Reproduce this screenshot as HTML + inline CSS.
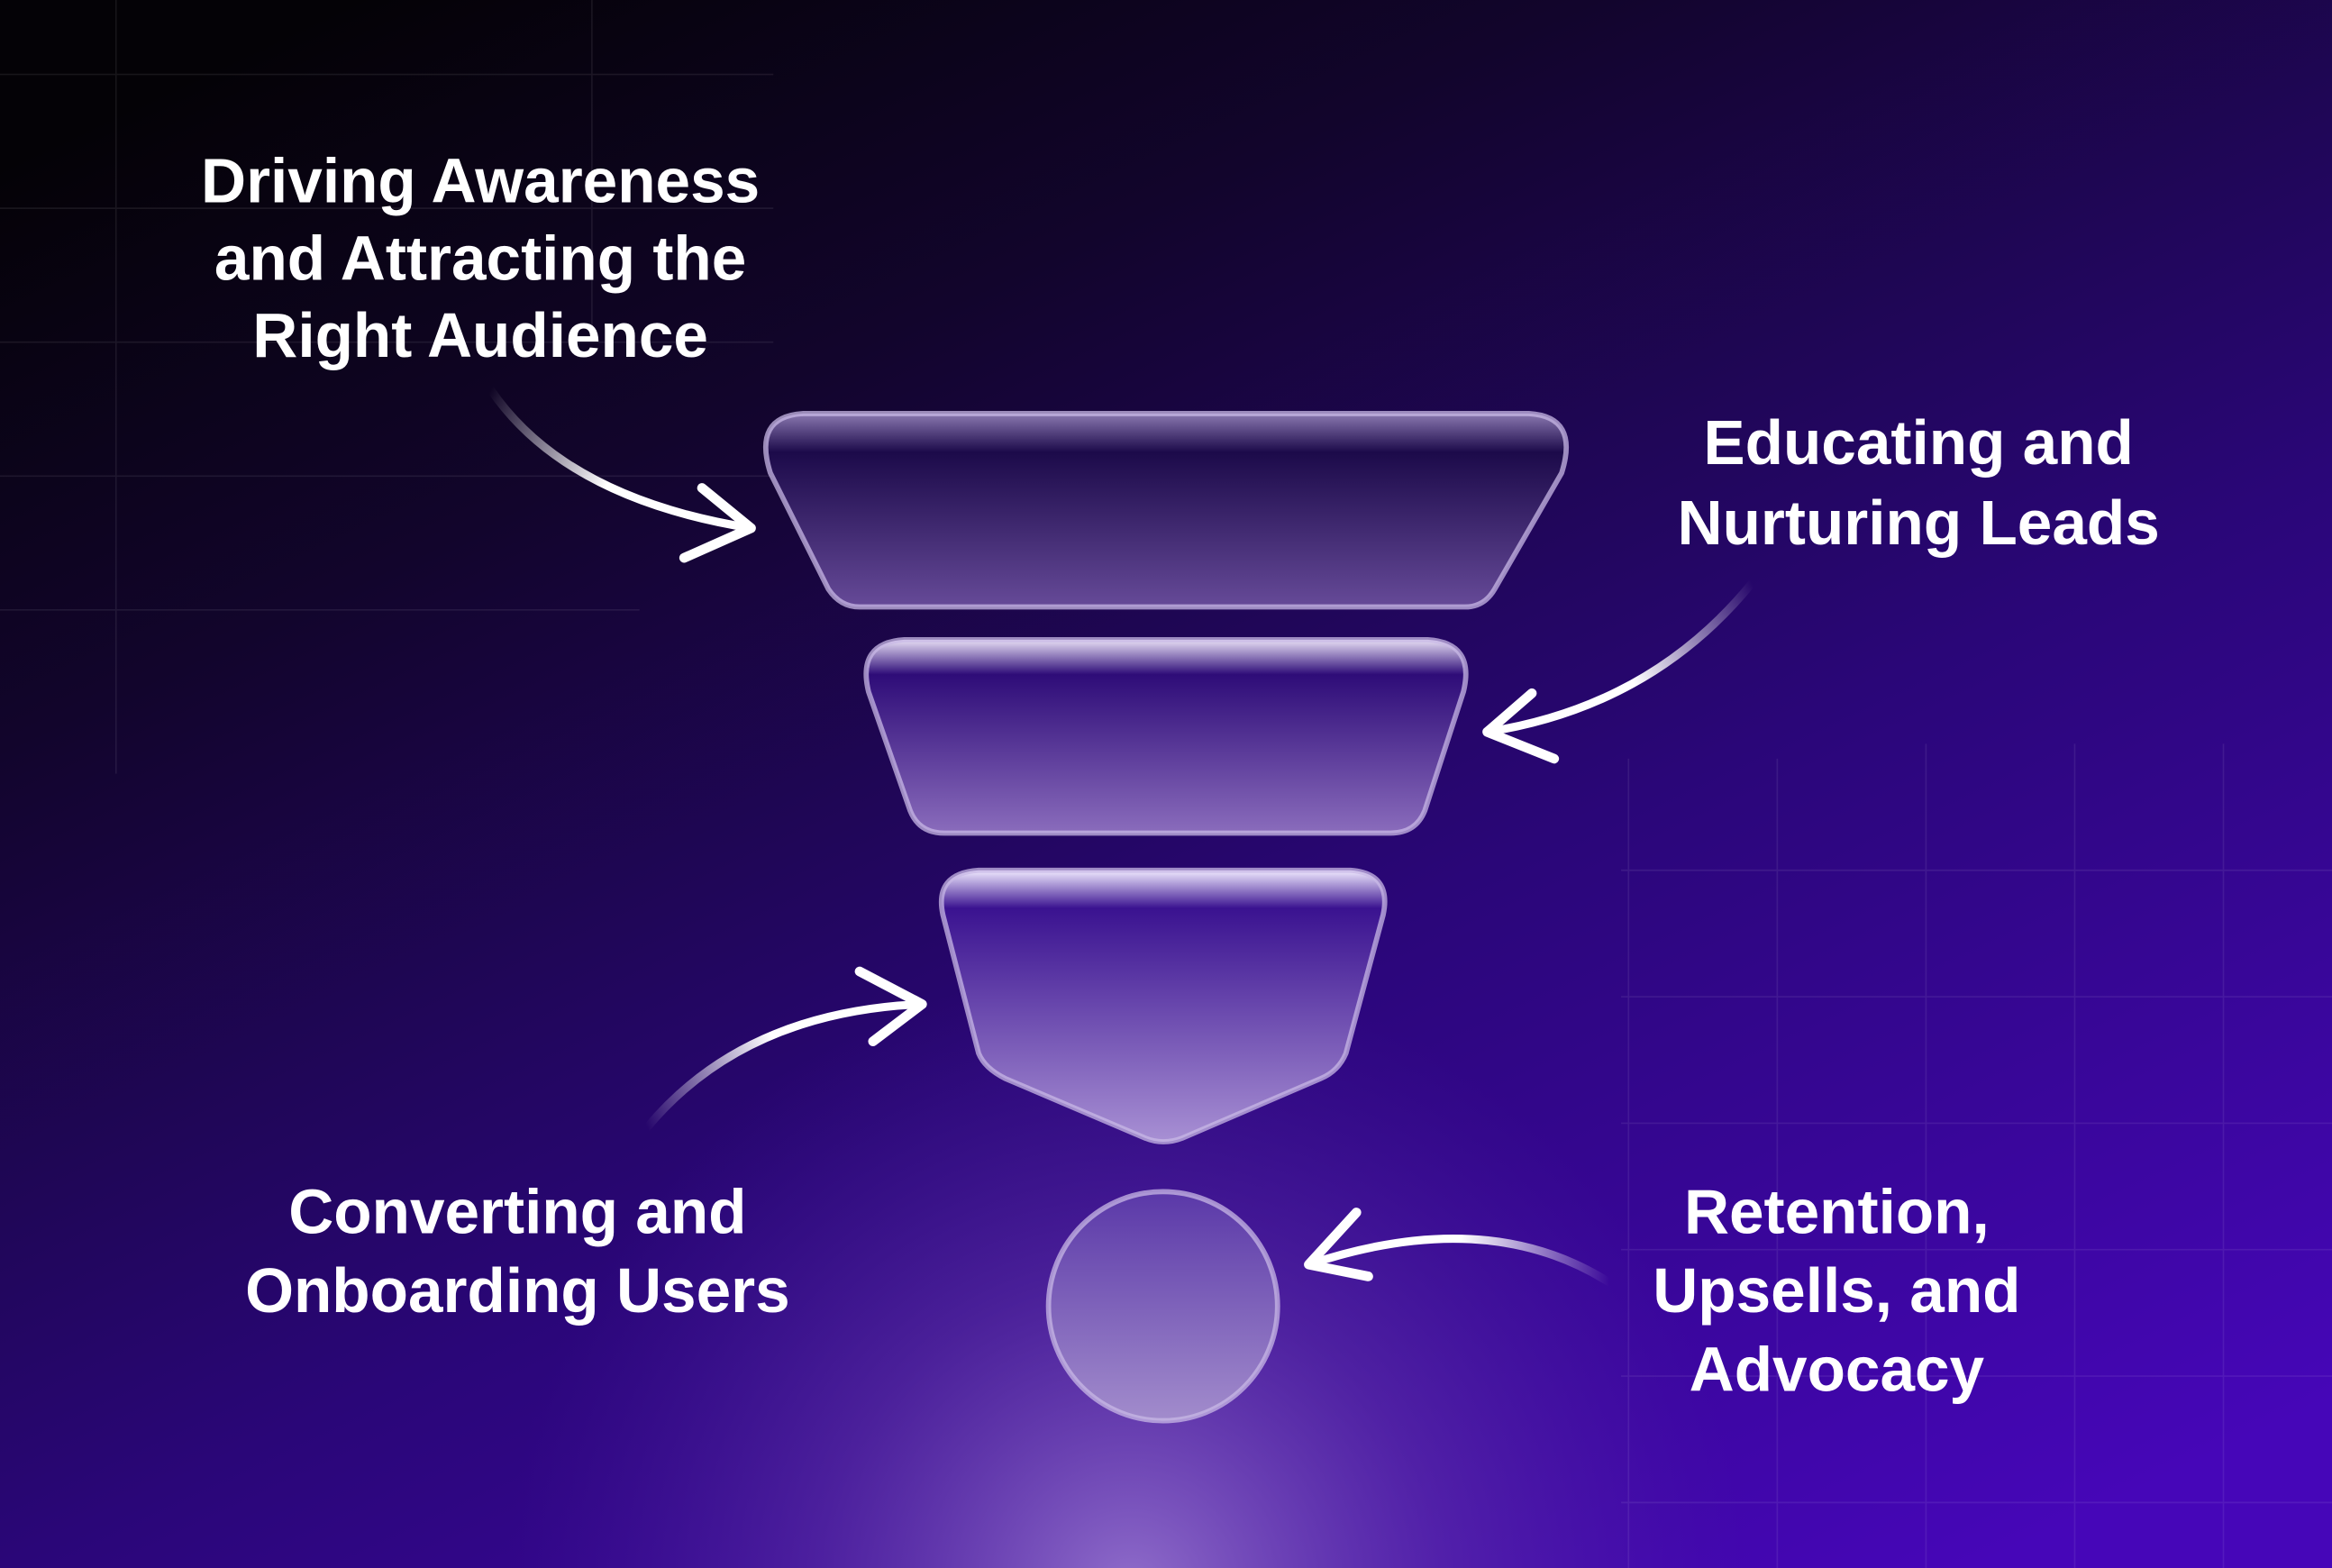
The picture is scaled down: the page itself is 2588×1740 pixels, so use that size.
<!DOCTYPE html>
<html><head><meta charset="utf-8"><style>
html,body{margin:0;padding:0;width:2588px;height:1740px;overflow:hidden;background:#12062e}
svg{display:block}
text{font-family:"Liberation Sans",sans-serif;font-weight:bold;fill:#fff;font-size:42px;text-anchor:middle}
</style></head><body>
<svg width="2588" height="1740" viewBox="0 0 1568 1054" preserveAspectRatio="none">
<defs>
<linearGradient id="bg" x1="0.15" y1="0" x2="0.85" y2="1">
<stop offset="0" stop-color="#040206"/>
<stop offset="0.25" stop-color="#12052c"/>
<stop offset="0.6" stop-color="#2a0678"/>
<stop offset="1" stop-color="#4606b8"/>
</linearGradient>
<radialGradient id="glow" cx="760" cy="1070" r="420" gradientUnits="userSpaceOnUse">
<stop offset="0" stop-color="#9a7ad0" stop-opacity="0.9"/>
<stop offset="0.5" stop-color="#6a40b0" stop-opacity="0.45"/>
<stop offset="1" stop-color="#4a20a0" stop-opacity="0"/>
</radialGradient>
<linearGradient id="f1" x1="0" y1="0" x2="0" y2="1">
<stop offset="0" stop-color="#8a78b0"/>
<stop offset="0.2" stop-color="#1c0a4a"/>
<stop offset="1" stop-color="#664a98"/>
</linearGradient>
<linearGradient id="f2" x1="0" y1="0" x2="0" y2="1">
<stop offset="0" stop-color="#e8e0f5"/>
<stop offset="0.18" stop-color="#2e0c78"/>
<stop offset="1" stop-color="#8a6cbc"/>
</linearGradient>
<linearGradient id="f3" x1="0" y1="0" x2="0" y2="1">
<stop offset="0" stop-color="#f0eaff"/>
<stop offset="0.14" stop-color="#3a1290"/>
<stop offset="1" stop-color="#a890d4"/>
</linearGradient>
<linearGradient id="fc" x1="0" y1="0" x2="0" y2="1">
<stop offset="0" stop-color="#5a38a8"/>
<stop offset="1" stop-color="#a28ccc"/>
</linearGradient>
<linearGradient id="a1" gradientUnits="userSpaceOnUse" x1="330" y1="262" x2="505" y2="355"><stop offset="0" stop-color="#fff" stop-opacity="0"/><stop offset="0.5" stop-color="#fff"/></linearGradient>
<linearGradient id="a2" gradientUnits="userSpaceOnUse" x1="1178" y1="392" x2="1000" y2="492"><stop offset="0" stop-color="#fff" stop-opacity="0"/><stop offset="0.5" stop-color="#fff"/></linearGradient>
<linearGradient id="a3" gradientUnits="userSpaceOnUse" x1="435" y1="758" x2="620" y2="675"><stop offset="0" stop-color="#fff" stop-opacity="0"/><stop offset="0.5" stop-color="#fff"/></linearGradient>
<linearGradient id="a4" gradientUnits="userSpaceOnUse" x1="1082" y1="862" x2="880" y2="850"><stop offset="0" stop-color="#fff" stop-opacity="0"/><stop offset="0.5" stop-color="#fff"/></linearGradient>
</defs>
<rect width="1568" height="1054" fill="url(#bg)"/>
<rect width="1568" height="1054" fill="url(#glow)"/>
<g stroke="#ffffff" stroke-opacity="0.08" stroke-width="1">
<path d="M78 0V520M0 50H520M0 140H520M0 230H520M0 320H520M0 410H430M398 0V230"/>
<path d="M1095 510V1054M1195 510V1054M1295 500V1054M1395 500V1054M1495 500V1054M1090 585H1568M1090 670H1568M1090 755H1568M1090 840H1568M1090 925H1568M1090 1010H1568"/>
</g>
<g stroke="#c8b8e6" stroke-opacity="0.75" stroke-width="3.5">
<path d="M540 278H1028Q1062 280 1050 318L1005 396Q998 408 985 408H578Q565 408 557 396L518 318Q506 280 540 278Z" fill="url(#f1)"/>
<path d="M608 430H960Q992 432 984 465L958 545Q952 560 935 560H635Q618 560 612 545L584 465Q576 432 608 430Z" fill="url(#f2)"/>
<path d="M658 585H908Q936 587 930 615L905 708Q900 720 888 725L795 765Q782 770 770 765L676 725Q662 718 658 708L634 615Q628 587 658 585Z" fill="url(#f3)"/>
<circle cx="782" cy="878" r="77" fill="url(#fc)"/>
</g>
<g fill="none" stroke-width="5.5" stroke-linecap="round" stroke-linejoin="round">
<path d="M330 262Q380 335 505 355" stroke="url(#a1)"/>
<path d="M472 328L505 355L460 375" stroke="#fff" stroke-width="6.5"/>
<path d="M1178 392Q1110 475 1000 492" stroke="url(#a2)"/>
<path d="M1030 466L1000 492L1045 510" stroke="#fff" stroke-width="6.5"/>
<path d="M435 758Q500 680 620 675" stroke="url(#a3)"/>
<path d="M578 653L620 675L587 700" stroke="#fff" stroke-width="6.5"/>
<path d="M1082 862Q1000 810 880 850" stroke="url(#a4)"/>
<path d="M912 815L880 850L920 858" stroke="#fff" stroke-width="6.5"/>
</g>
<text x="323" y="136">Driving Awareness</text>
<text x="323" y="188">and Attracting the</text>
<text x="323" y="240">Right Audience</text>
<text x="1290" y="312">Educating and</text>
<text x="1290" y="366">Nurturing Leads</text>
<text x="348" y="829">Converting and</text>
<text x="348" y="882">Onboarding Users</text>
<text x="1235" y="829">Retention,</text>
<text x="1235" y="882">Upsells, and</text>
<text x="1235" y="935">Advocacy</text>
</svg>
</body></html>
